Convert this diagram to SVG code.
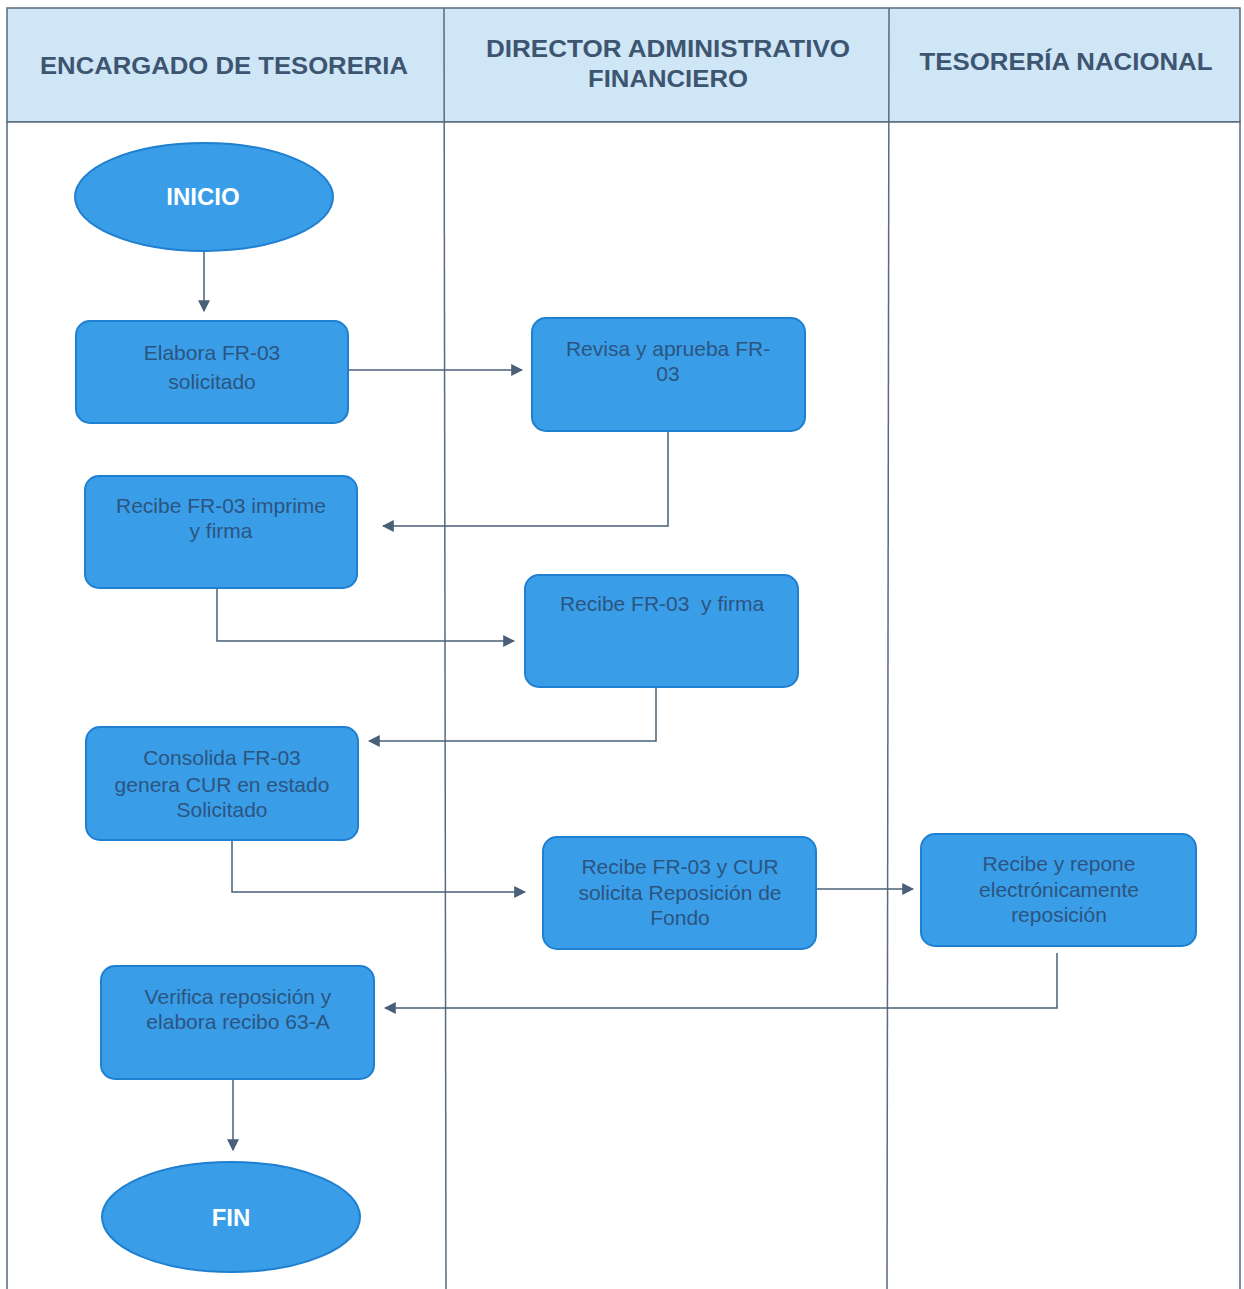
<svg xmlns="http://www.w3.org/2000/svg" width="1244" height="1289" viewBox="0 0 1244 1289">
<defs>
<style>
.lane{fill:#ffffff;stroke:#5a6a7a;stroke-width:1.5}
.hdr{fill:#cfe6f6;stroke:#5a6a7a;stroke-width:1.5}
.ht{font-family:"Liberation Sans",Arial,sans-serif;font-weight:bold;font-size:24px;fill:#3d5570;text-anchor:middle}
.box{fill:#3a9de8;stroke:#1f7fd0;stroke-width:2}
.nt{font-family:"Liberation Sans",Arial,sans-serif;font-size:21px;fill:#2b5580;text-anchor:middle}
.et{font-family:"Liberation Sans",Arial,sans-serif;font-weight:bold;font-size:24px;fill:#ffffff;text-anchor:middle}
.cn{fill:none;stroke:#4a6078;stroke-width:1.5}
</style>
<marker id="ar" viewBox="0 0 10 10" refX="9" refY="5" markerWidth="12" markerHeight="12" markerUnits="userSpaceOnUse" orient="auto">
<path d="M0,0 L10,5 L0,10 z" fill="#4a6078"/>
</marker>
</defs>
<rect width="1244" height="1289" fill="#ffffff"/>
<g id="lanes">
<rect class="hdr" x="7" y="8" width="1233" height="114"/>
<rect class="lane" x="7" y="122" width="1233" height="1170"/>
<line x1="444" y1="8" x2="446" y2="1289" stroke="#5a6a7a" stroke-width="1.5"/>
<line x1="889" y1="8" x2="887" y2="1289" stroke="#5a6a7a" stroke-width="1.5"/>
<text class="ht" x="224" y="74" textLength="368" lengthAdjust="spacingAndGlyphs">ENCARGADO DE TESORERIA</text>
<text class="ht" x="668" y="57" textLength="364" lengthAdjust="spacingAndGlyphs">DIRECTOR ADMINISTRATIVO</text>
<text class="ht" x="668" y="87" textLength="160" lengthAdjust="spacingAndGlyphs">FINANCIERO</text>
<text class="ht" x="1066" y="70" textLength="293" lengthAdjust="spacingAndGlyphs">TESORERÍA NACIONAL</text>
</g>
<g id="connectors">
<path class="cn" d="M204,251 V311" marker-end="url(#ar)"/>
<path class="cn" d="M348,370 H522" marker-end="url(#ar)"/>
<path class="cn" d="M668,431 V526 H383" marker-end="url(#ar)"/>
<path class="cn" d="M217,588 V641 H514" marker-end="url(#ar)"/>
<path class="cn" d="M656,687 V741 H369" marker-end="url(#ar)"/>
<path class="cn" d="M232,840 V892 H525" marker-end="url(#ar)"/>
<path class="cn" d="M816,889 H913" marker-end="url(#ar)"/>
<path class="cn" d="M1057,953 V1008 H385" marker-end="url(#ar)"/>
<path class="cn" d="M233,1079 V1150" marker-end="url(#ar)"/>
</g>
<g id="inicio">
<ellipse class="box" cx="204" cy="197" rx="129" ry="54"/>
<text class="et" x="203" y="205">INICIO</text>
</g>
<g id="elabora">
<rect class="box" x="76" y="321" width="272" height="102" rx="14"/>
<text class="nt" x="212" y="360" font-size="23">Elabora FR-03</text>
<text class="nt" x="212" y="389" font-size="23">solicitado</text>
</g>
<g id="revisa">
<rect class="box" x="532" y="318" width="273" height="113" rx="14"/>
<text class="nt" x="668" y="356">Revisa y aprueba FR-</text>
<text class="nt" x="668" y="381">03</text>
</g>
<g id="recibe-imprime">
<rect class="box" x="85" y="476" width="272" height="112" rx="14"/>
<text class="nt" x="221" y="513">Recibe FR-03 imprime</text>
<text class="nt" x="221" y="538">y firma</text>
</g>
<g id="recibe-firma">
<rect class="box" x="525" y="575" width="273" height="112" rx="14"/>
<text class="nt" x="662" y="611" xml:space="preserve">Recibe FR-03  y firma</text>
</g>
<g id="consolida">
<rect class="box" x="86" y="727" width="272" height="113" rx="14"/>
<text class="nt" x="222" y="765">Consolida FR-03</text>
<text class="nt" x="222" y="792">genera CUR en estado</text>
<text class="nt" x="222" y="817">Solicitado</text>
</g>
<g id="recibe-cur">
<rect class="box" x="543" y="837" width="273" height="112" rx="14"/>
<text class="nt" x="680" y="874">Recibe FR-03 y CUR</text>
<text class="nt" x="680" y="900">solicita Reposición de</text>
<text class="nt" x="680" y="925">Fondo</text>
</g>
<g id="recibe-repone">
<rect class="box" x="921" y="834" width="275" height="112" rx="14"/>
<text class="nt" x="1059" y="871">Recibe y repone</text>
<text class="nt" x="1059" y="897">electrónicamente</text>
<text class="nt" x="1059" y="922">reposición</text>
</g>
<g id="verifica">
<rect class="box" x="101" y="966" width="273" height="113" rx="14"/>
<text class="nt" x="238" y="1004">Verifica reposición y</text>
<text class="nt" x="238" y="1029">elabora recibo 63-A</text>
</g>
<g id="fin">
<ellipse class="box" cx="231" cy="1217" rx="129" ry="55"/>
<text class="et" x="231" y="1226">FIN</text>
</g>
</svg>
